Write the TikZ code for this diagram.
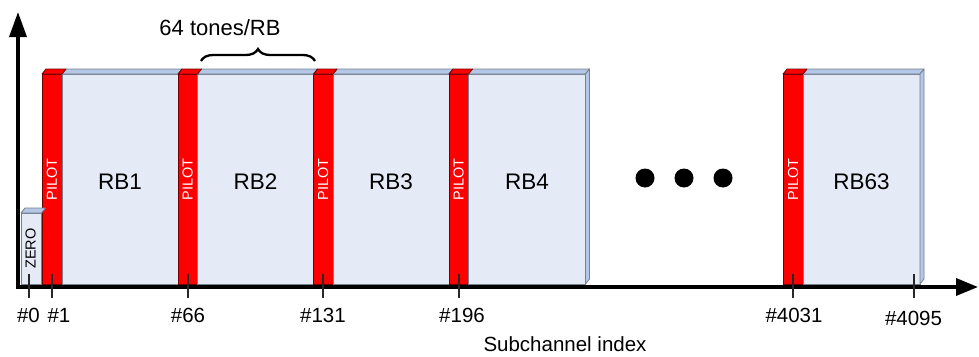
\documentclass[tikz,border=0pt]{standalone}
\usepackage{fontspec}
\setmainfont{Liberation Sans}
\usetikzlibrary{arrows.meta,decorations.pathreplacing}

\definecolor{rbfront}{RGB}{229,235,246}
\definecolor{rbtop}{RGB}{181,199,230}
\definecolor{rbedge}{RGB}{118,128,142}
\definecolor{pilotred}{RGB}{255,0,0}
\definecolor{pilotedge}{RGB}{110,0,0}
\definecolor{tickgray}{RGB}{40,40,40}

\begin{document}
\begin{tikzpicture}[x=1pt,y=-1pt,
  block/.style={rectangle, anchor=north west, inner sep=0pt, outer sep=0pt,
    minimum height=210pt, line width=0.8pt},
  rbbox/.style={block, fill=rbfront, draw=rbedge},
  pilotbox/.style={block, fill=pilotred, draw=pilotedge, minimum width=19.5pt},
  zerobox/.style={rectangle, anchor=north west, inner sep=0pt, outer sep=0pt,
    fill=rbfront, draw=rbedge, line width=0.8pt},
  rbtopface/.style={fill=rbtop, draw=rbedge, line width=0.8pt, line join=round},
  pilottopface/.style={fill=pilotred, draw=pilotedge, line width=0.8pt, line join=round},
  rblbl/.style={font=\fontsize{22.5}{26}\selectfont, inner sep=0pt},
  toneslbl/.style={font=\fontsize{22}{26}\selectfont, inner sep=0pt},
  pilotlbl/.style={font=\fontsize{14.5}{16}\selectfont, text=white, rotate=90, inner sep=0pt},
  zerolbl/.style={font=\fontsize{14.5}{16}\selectfont, text=black, rotate=90, inner sep=0pt},
  ticklbl/.style={font=\fontsize{20.5}{24}\selectfont, inner sep=0pt},
  tickmark/.style={draw=tickgray, line width=1.2pt},
  dot/.style={circle, fill=black, inner sep=0pt, minimum size=19pt},
  axis/.style={line width=3.5pt, line join=miter,
    {Triangle[length=25pt,width=17pt]}-{Triangle[length=22pt,width=17pt]}},
  tonebrace/.style={decorate, decoration={brace, amplitude=12pt}, line width=2.3pt}
]
\useasboundingbox (0,0) rectangle (979,356);

% ---- front faces of the zero tone, pilots and resource blocks
\node[zerobox, minimum width=20.5pt, minimum height=71pt] (zero) at (21,213) {};
\node[pilotbox, minimum width=20pt] (p1) at (42,74) {};
\node[rbbox, minimum width=116pt] (rb1) at (62,74) {};
\node[pilotbox] (p2) at (178,74) {};
\node[rbbox, minimum width=116pt] (rb2) at (197.5,74) {};
\node[pilotbox] (p3) at (313.5,74) {};
\node[rbbox, minimum width=116pt] (rb3) at (333,74) {};
\node[pilotbox] (p4) at (449,74) {};
\node[rbbox, minimum width=117pt] (rb4) at (468.5,74) {};
\node[pilotbox, minimum width=20pt] (p63) at (783,74) {};
\node[rbbox, minimum width=117pt] (rb63) at (803,74) {};

% ---- top faces (depth offset 4 right, 5 up)
\foreach \b in {zero,rb1,rb2,rb3,rb4,rb63}
  \draw[rbtopface] (\b.north west) -- ([shift={(4,-5)}]\b.north west)
    -- ([shift={(4,-5)}]\b.north east) -- (\b.north east) -- cycle;
\foreach \b in {p1,p2,p3,p4,p63}
  \draw[pilottopface] (\b.north west) -- ([shift={(4,-5)}]\b.north west)
    -- ([shift={(4,-5)}]\b.north east) -- (\b.north east) -- cycle;

% ---- right side faces of the last block in each run
\foreach \b in {rb4,rb63}
  \draw[rbtopface] (\b.north east) -- ([shift={(4,-5)}]\b.north east)
    -- ([shift={(4,-5)}]\b.south east) -- (\b.south east) -- cycle;

% ---- labels inside the blocks
\node[zerolbl] (zerot) at ([xshift=-0.5pt]zero.center) {ZERO};
\foreach \p in {p1,p2,p3,p4,p63}
  \node[pilotlbl] (\p t) at ([yshift=-0.5pt]\p.center) {PILOT};
\node[rblbl] (rb1t) at ([yshift=-2.5pt]rb1.center) {RB1};
\node[rblbl] (rb2t) at ([yshift=-2.5pt]rb2.center) {RB2};
\node[rblbl] (rb3t) at ([yshift=-2.5pt]rb3.center) {RB3};
\node[rblbl] (rb4t) at ([yshift=-2.5pt]rb4.center) {RB4};
\node[rblbl] (rb63t) at ([yshift=-2.5pt]rb63.center) {RB63};

% ---- ellipsis between RB4 and RB63
\node[dot] (d1) at (645,178) {};
\node[dot] (d2) at (684,178) {};
\node[dot] (d3) at (723,178) {};

% ---- axes
\coordinate (ytip) at (18,12);
\coordinate (org) at (18,287);
\coordinate (xtip) at (978,287);
\draw[axis] (ytip) -- (org) -- (xtip);

% ---- subchannel ticks and their indices
\foreach \n/\x/\lx/\ly in {0/29/28.5/315, 1/52/59/315, 66/188/188/315,
                           131/323/323/315, 196/459/462/315,
                           4031/793/794/315, 4095/914/913.5/318} {
  \coordinate (tt\n) at (\x,274);
  \coordinate (tb\n) at (\x,298);
  \draw[tickmark] (tt\n) -- (tb\n);
  \node[ticklbl] (lbl\n) at (\lx,\ly) {\#\n};
}

% ---- brace spanning one resource block
\coordinate (brl) at (201,61);
\coordinate (brr) at (315,61);
\draw[tonebrace] (brl) -- (brr);
\node[toneslbl] (tones) at (220,28) {64 tones/RB};

\node[ticklbl] (xlabel) at (565,344) {Subchannel index};
\end{tikzpicture}
\end{document}
